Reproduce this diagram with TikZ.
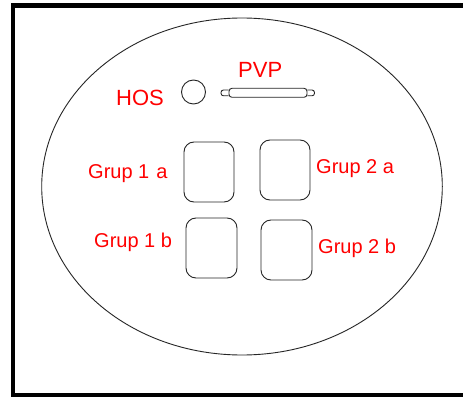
\documentclass[tikz,border=0pt]{standalone}
\usepackage{fontspec}
\setmainfont{Liberation Sans}
\begin{document}
\begin{tikzpicture}[x=1pt,y=-1pt,
  outline/.style={draw=black!85,line width=0.9pt},
  padbox/.style={outline,rectangle,rounded corners=10pt,minimum width=50pt,minimum height=60pt,inner sep=0pt},
  redlabel/.style={text=red,inner sep=0pt,anchor=base west,font=\fontsize{20}{24}\selectfont},
  biglabel/.style={redlabel,font=\fontsize{22}{26}\selectfont}]
\useasboundingbox (0,0) rectangle (463,401);
\fill[white] (0,0) rectangle (463,401);
% outer frame, open to the right
\draw[line width=4.5pt] (470,5.7) -- (13,5.7) -- (13,395) -- (470,395);
% panel outline
\draw[outline] (242,186.5) ellipse [x radius=200.3pt, y radius=168.5pt];
% indicator lamp and slot
\node[outline,circle,minimum size=24pt,inner sep=0pt] (hos) at (193.5,92) {};
\node[outline,rectangle,rounded corners=3pt,minimum width=78pt,minimum height=9pt,inner sep=0pt] (pvp) at (268,92.8) {};
\draw[outline,rounded corners=2.5pt] (pvp.west |- 0,90) -- (221,90) -- (221,95.8) -- (pvp.west |- 0,95.8);
\draw[outline,rounded corners=2.5pt] (pvp.east |- 0,90) -- (314.5,90) -- (314.5,95.8) -- (pvp.east |- 0,95.8);
% group buttons
\node[padbox] (g1a) at (209,172) {};
\node[padbox] (g2a) at (285,170) {};
\node[padbox,minimum width=51pt] (g1b) at (211.5,248) {};
\node[padbox,minimum width=51pt] (g2b) at (286.5,250) {};
% labels
\node[biglabel] (thos) at (116,106) {HOS};
\node[biglabel] (tpvp) at (238,78) {PVP};
\node[redlabel] (t1a) at (88,178) {Grup 1\hspace{7pt}a};
\node[redlabel] (t2a) at (316,173) {Grup 2 a};
\node[redlabel] (t1b) at (94,247) {Grup 1 b};
\node[redlabel] (t2b) at (318,253) {Grup 2 b};
\end{tikzpicture}
\end{document}
